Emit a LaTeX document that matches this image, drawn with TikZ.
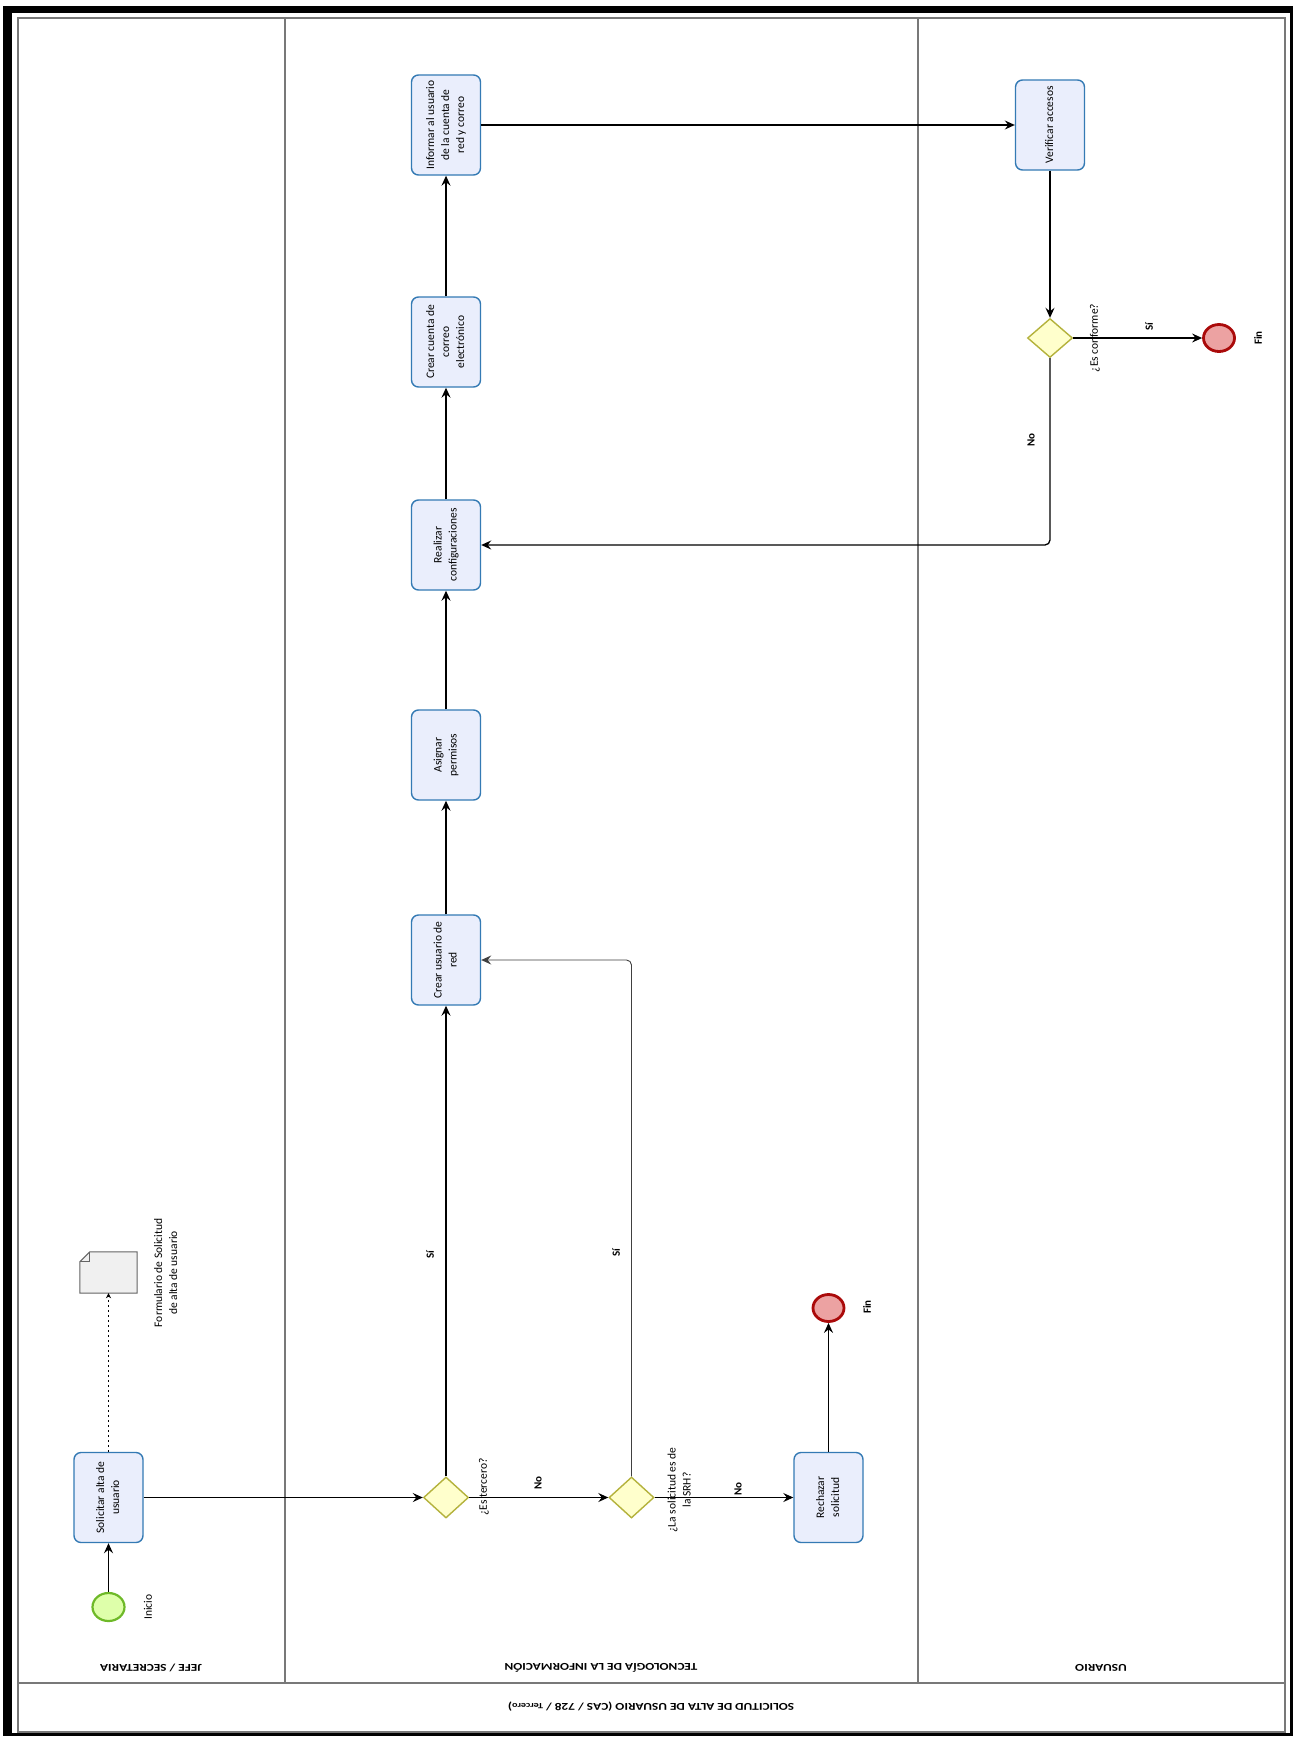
\documentclass[tikz,border=0pt]{standalone}
\usepackage{fontspec}
\setmainfont{Carlito}
\usepackage{graphicx}
\usetikzlibrary{arrows.meta,shapes.geometric,calc}

\definecolor{taskblue}{RGB}{52,122,180}
\definecolor{taskfill}{RGB}{234,238,252}
\definecolor{gwline}{RGB}{180,178,60}
\definecolor{gwfill}{RGB}{255,255,204}
\definecolor{startline}{RGB}{110,185,40}
\definecolor{startfill}{RGB}{222,255,170}
\definecolor{endline}{RGB}{170,10,10}
\definecolor{endfill}{RGB}{236,162,162}
\definecolor{laneline}{RGB}{120,120,120}
\definecolor{docfill}{RGB}{240,240,240}
\definecolor{docline}{RGB}{100,100,100}

\newcommand\vlab[1]{\rotatebox{90}{\begin{tabular}{@{}c@{}}#1\end{tabular}}}
\newcommand\flab[1]{\rotatebox{180}{\scalebox{1.27}[1]{#1}}}

\begin{document}
\begin{tikzpicture}[x=1pt,y=-1pt,
 task/.style={draw=taskblue, fill=taskfill, line width=1.4pt, rounded corners=7pt, minimum width=69pt, minimum height=90pt, inner sep=0pt, font=\fontsize{11.5}{15}\selectfont},
 gateway/.style={diamond, draw=gwline, fill=gwfill, line width=1.4pt, minimum width=45pt, minimum height=41pt, inner sep=0pt},
 startev/.style={ellipse, draw=startline, fill=startfill, line width=2.2pt, minimum width=32pt, minimum height=28pt, inner sep=0pt},
 endev/.style={ellipse, draw=endline, fill=endfill, line width=2.8pt, minimum width=31pt, minimum height=27pt, inner sep=0pt},
 flow/.style={line width=1.3pt, -{Stealth[length=10pt,width=9pt,inset=3.5pt]}},
 lbl/.style={inner sep=0pt, font=\fontsize{11.5}{15}\selectfont},
 blbl/.style={inner sep=0pt, font=\bfseries\fontsize{11}{15}\selectfont},
 lanetitle/.style={inner sep=0pt, font=\bfseries\fontsize{10.5}{13}\selectfont},
 lane/.style={draw=laneline, line width=1.4pt},
]
\useasboundingbox (0,0) rectangle (1294,1737);
\fill[white] (0,0) rectangle (1294,1737);
% outer frame
\draw[black, line width=3pt] (4.5,7.5) rectangle (1291.5,1734.5);
\fill[black] (3,6) rectangle (12,1736);
\fill[black] (3,6) rectangle (1293,13);
% pool and lanes
\draw[lane] (18,18) rectangle (1285,1732);
\draw[lane] (18,1683) -- (1285,1683);
\draw[lane] (285,18) -- (285,1683);
\draw[lane] (918,18) -- (918,1683);

\node[lanetitle] (h1) at (151,1668) {\flab{JEFE / SECRETARIA}};
\node[lanetitle] (h2) at (601,1668) {\flab{TECNOLOGÍA DE LA INFORMACIÓN}};
\node[lanetitle] (h3) at (1101,1668) {\flab{USUARIO}};
\node[lanetitle] (title) at (651,1707) {\flab{SOLICITUD DE ALTA DE USUARIO (CAS / 728 / {\fontsize{8}{10}\selectfont Tercero})}};

% Jefe lane
\node[task] (sol) at (108.5,1497.5) {\vlab{Solicitar alta de\\usuario}};
\node[startev] (ini) at (108.5,1607) {};
\node[lbl] (inil) at (148,1607) {\rotatebox{90}{Inicio}};
\node[inner sep=0pt, minimum width=57pt, minimum height=41pt] (doc) at (108.5,1272.5) {};
\filldraw[fill=docfill, draw=docline, line width=1pt] ($(doc.north west)+(10,0)$) -- (doc.north east) -- (doc.south east) -- (doc.south west) -- ($(doc.north west)+(0,10)$) -- cycle;
\draw[docline, line width=1pt] ($(doc.north west)+(0,10)$) -- ($(doc.north west)+(10,10)$) -- ($(doc.north west)+(10,0)$);
\node[lbl] (docl) at (166.5,1273) {\vlab{Formulario de Solicitud\\de alta de usuario}};

% TI lane
\node[gateway] (g1) at (446,1497.5) {};
\node[gateway] (g2) at (631.5,1497.5) {};
\node[task] (rech) at (828.5,1497.5) {\vlab{Rechazar\\solicitud}};
\node[endev] (fin1) at (828.5,1308) {};
\node[blbl] (fin1l) at (867,1307) {\rotatebox{90}{Fin}};
\node[task] (cu) at (446,960) {\vlab{Crear usuario de\\red}};
\node[task] (ap) at (446,755) {\vlab{Asignar\\permisos}};
\node[task] (rc) at (446,545) {\vlab{Realizar\\configuraciones}};
\node[task] (cc) at (446,342) {\vlab{Crear cuenta de\\correo\\electrónico}};
\node[task, minimum height=100pt] (inf) at (446,125) {\vlab{Informar al usuario\\de la cuenta de\\red y correo}};

% Usuario lane
\node[task] (ver) at (1050,125) {\vlab{Verificar accesos}};
\node[gateway, minimum height=39pt] (g3) at (1050,338) {};
\node[endev] (fin2) at (1219,338) {};
\node[blbl] (fin2l) at (1258,338) {\rotatebox{90}{Fin}};

% labels
\node[lbl] (g1l) at (484,1487) {\rotatebox{90}{¿Es tercero?}};
\node[lbl] (g2l) at (680,1490) {\vlab{¿La solicitud es de\\la SRH?}};
\node[lbl] (g3l) at (1095,338) {\rotatebox{90}{¿Es conforme?}};
\node[blbl] (si1) at (430,1255) {\rotatebox{90}{Sí}};
\node[blbl] (si2) at (616,1253) {\rotatebox{90}{Sí}};
\node[blbl] (si3) at (1149,327) {\rotatebox{90}{Sí}};
\node[blbl] (no1) at (538,1483) {\rotatebox{90}{No}};
\node[blbl] (no2) at (738,1489) {\rotatebox{90}{No}};
\node[blbl] (no3) at (1031,440) {\rotatebox{90}{No}};

% connectors
\draw[flow] (ini) -- (sol);
\draw[line width=1.5pt, dash pattern=on 1.5pt off 3.5pt, -{Stealth[length=5pt,width=5pt]}] (sol) -- (doc);
\draw[flow] (sol) -- (g1);
\draw[flow] (g1) -- (cu);
\draw[flow] (g1) -- (g2);
\draw[flow] (g2) -- (rech);
\draw[flow] (rech) -- (fin1);
\draw[flow, line width=0.9pt, draw=black!75, rounded corners=5pt] (g2.north) |- (cu.east);
\draw[flow] (cu) -- (ap);
\draw[flow] (ap) -- (rc);
\draw[flow] (rc) -- (cc);
\draw[flow] (cc) -- (inf);
\draw[flow] (inf) -- (ver);
\draw[flow] (ver) -- (g3);
\draw[flow] (g3) -- (fin2);
\draw[flow, rounded corners=5pt] (g3.south) |- (rc.east);
\end{tikzpicture}
\end{document}
